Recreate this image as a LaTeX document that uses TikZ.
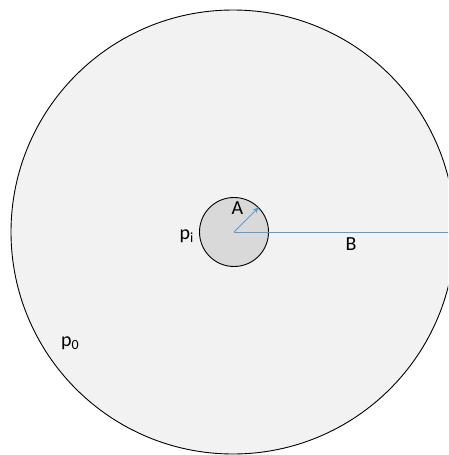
\documentclass[tikz,border=0pt]{standalone}
\usepackage{fontspec}
\setmainfont{Carlito}
\usetikzlibrary{arrows.meta}
\definecolor{outerfill}{HTML}{F2F2F2}
\definecolor{innerfill}{HTML}{D9D9D9}
\definecolor{linkblue}{HTML}{5B9BD5}
\tikzset{
  ring/.style={circle, draw=black, line width=0.9pt, inner sep=0pt},
  radius line/.style={draw=linkblue, line width=0.8pt},
  lbl/.style={font=\fontsize{20}{24}\selectfont, text=black, inner sep=0pt}
}
\begin{document}
\begin{tikzpicture}[x=1pt, y=-1pt]
\useasboundingbox (0,0) rectangle (448,455);
\clip (0,0) rectangle (448,455);
\node[ring, fill=outerfill, minimum size=444pt] (outer) at (233,232) {};
\node[ring, fill=innerfill, minimum size=69pt] (inner) at (234,232) {};
\coordinate (bend) at (outer.east);
\draw[radius line] (inner.center) -- (bend);
\draw[radius line, -{Stealth[length=6pt, width=5pt]}] (inner.center) -- (inner.45);
\node[lbl, anchor=base] (la) at (237.5,214.5) {A};
\node[lbl, anchor=base] (lb) at (351,250.5) {B};
\node[lbl, anchor=base east] (lpi) at (194,239) {p\textsubscript{i}};
\node[lbl, anchor=base west] (lpo) at (61,346) {p\textsubscript{0}};
\end{tikzpicture}
\end{document}
